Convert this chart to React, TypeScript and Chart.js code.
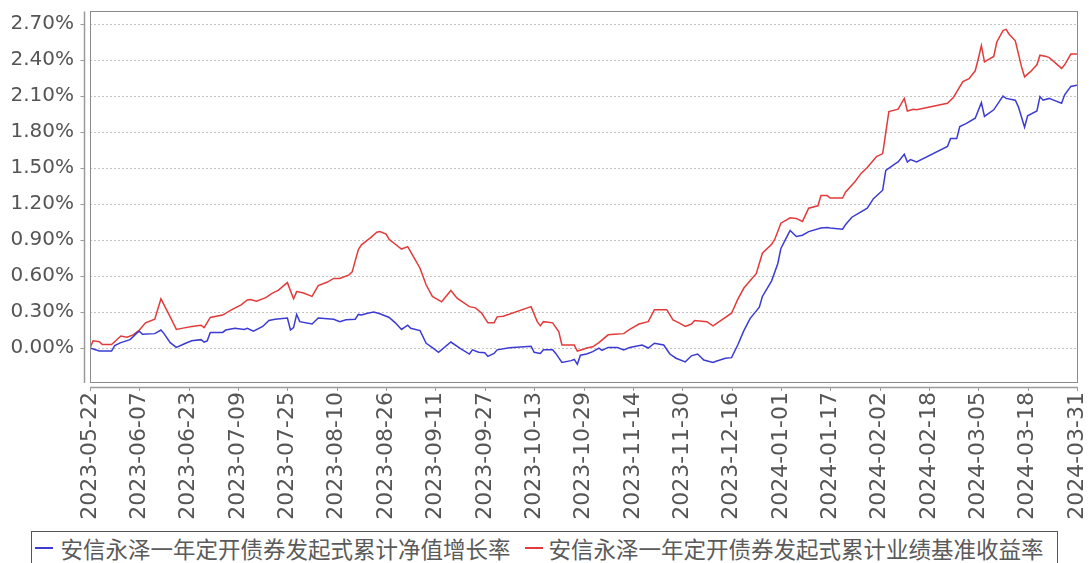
import React, { useEffect, useRef } from 'react';
import { Chart, registerables } from 'chart.js';

Chart.register(...registerables);

// x positions: evenly spaced axis units, 16 units between consecutive tick labels
const xTickLabels = [
  '2023-05-22', '2023-06-07', '2023-06-23', '2023-07-09', '2023-07-25', '2023-08-10',
  '2023-08-26', '2023-09-11', '2023-09-27', '2023-10-13', '2023-10-29', '2023-11-14',
  '2023-11-30', '2023-12-16', '2024-01-01', '2024-01-17', '2024-02-02', '2024-02-18',
  '2024-03-05', '2024-03-18', '2024-03-31',
];
const xTickStep = 16;
const yTickValues = [0, 0.3, 0.6, 0.9, 1.2, 1.5, 1.8, 2.1, 2.4, 2.7];
const yMin = -0.283;
const yMax = 2.8;

const seriesNames = [
  '安信永泽一年定开债券发起式累计净值增长率',
  '安信永泽一年定开债券发起式累计业绩基准收益率',
];

// Fund cumulative NAV growth (%)
const navX = [
  0, 3, 7, 8, 10, 13, 15, 16, 17, 21, 23, 24, 26, 28, 31, 33, 36, 37, 38, 39,
  43, 44, 47, 50, 51, 53, 56, 58, 60, 64, 65, 66, 67, 68, 72, 74, 79, 81, 83, 86,
  87, 88, 90, 92, 94, 97, 99, 101, 103, 104, 107, 109, 111, 113, 117, 120, 123, 124, 126, 128,
  129, 131, 132, 136, 143, 144, 146, 147, 150, 151, 153, 156, 157, 158, 159, 161, 163, 165, 166, 168,
  171, 173, 175, 177, 179, 181, 183, 186, 188, 190, 193, 195, 197, 199, 202, 203, 206, 208, 210, 212,
  214, 217, 218, 221, 223, 224, 226, 227, 229, 231, 233, 237, 239, 240, 244, 245, 247, 249, 252, 254,
  257, 258, 261, 262, 264, 265, 266, 268, 278, 279, 281, 282, 284, 287, 289, 290, 293, 296, 297, 300,
  301, 303, 304, 307, 308, 309, 311, 312, 315, 316, 318, 320,
];
const navValues = [
  0.0, -0.025, -0.025, 0.02, 0.045, 0.07, 0.12, 0.14, 0.115, 0.12, 0.15, 0.12, 0.045, 0.005, 0.04, 0.06, 0.07, 0.05, 0.06, 0.13,
  0.13, 0.15, 0.165, 0.155, 0.165, 0.14, 0.18, 0.23, 0.24, 0.25, 0.15, 0.17, 0.28, 0.22, 0.2, 0.25, 0.24, 0.22, 0.235, 0.24,
  0.28, 0.275, 0.29, 0.3, 0.285, 0.255, 0.21, 0.155, 0.19, 0.165, 0.145, 0.04, 0.003, -0.035, 0.05, -0.003, -0.05, -0.015, -0.035, -0.04,
  -0.07, -0.045, -0.015, 0.003, 0.015, -0.035, -0.045, -0.015, -0.015, -0.045, -0.12, -0.105, -0.095, -0.135, -0.06, -0.05, -0.03, 0.0, -0.02, 0.005,
  0.005, -0.015, 0.005, 0.015, 0.025, 0.0, 0.04, 0.025, -0.05, -0.085, -0.115, -0.065, -0.05, -0.1, -0.12, -0.11, -0.085, -0.08, 0.025, 0.145,
  0.245, 0.34, 0.43, 0.56, 0.705, 0.83, 0.93, 0.98, 0.93, 0.94, 0.97, 1.0, 1.005, 1.0, 0.99, 1.03, 1.09, 1.12, 1.165, 1.245,
  1.315, 1.48, 1.535, 1.55, 1.615, 1.55, 1.57, 1.55, 1.68, 1.745, 1.745, 1.845, 1.87, 1.915, 2.045, 1.93, 1.985, 2.1, 2.08, 2.065,
  2.01, 1.84, 1.935, 1.975, 2.095, 2.065, 2.08, 2.07, 2.04, 2.11, 2.18, 2.19,
];

// Benchmark cumulative return (%)
const benchX = [
  0, 1, 3, 4, 7, 10, 12, 14, 16, 18, 21, 23, 26, 28, 31, 33, 36, 37, 39, 43,
  46, 49, 51, 52, 54, 57, 59, 61, 64, 66, 67, 69, 72, 74, 77, 79, 81, 84, 85, 87,
  88, 91, 93, 94, 96, 97, 99, 101, 103, 105, 107, 109, 111, 114, 117, 119, 123, 125, 127, 129,
  131, 132, 134, 143, 145, 146, 147, 150, 152, 153, 157, 158, 160, 161, 163, 165, 168, 170, 173, 175,
  178, 181, 183, 187, 189, 191, 193, 195, 196, 200, 202, 204, 208, 210, 212, 214, 216, 218, 221, 222,
  224, 227, 229, 231, 233, 236, 237, 239, 240, 244, 245, 248, 250, 252, 254, 255, 257, 259, 262, 264,
  265, 267, 268, 278, 280, 281, 283, 285, 287, 288, 289, 290, 293, 294, 296, 297, 298, 300, 302, 303,
  305, 307, 308, 310, 311, 315, 316, 318, 320,
];
const benchValues = [
  0.0, 0.06, 0.053, 0.03, 0.03, 0.1, 0.09, 0.11, 0.15, 0.21, 0.24, 0.41, 0.26, 0.155, 0.17, 0.18, 0.19, 0.17, 0.255, 0.275,
  0.32, 0.36, 0.4, 0.405, 0.39, 0.42, 0.455, 0.48, 0.545, 0.41, 0.47, 0.46, 0.43, 0.52, 0.55, 0.58, 0.58, 0.61, 0.635, 0.82,
  0.86, 0.92, 0.965, 0.97, 0.95, 0.905, 0.865, 0.825, 0.845, 0.755, 0.665, 0.525, 0.43, 0.385, 0.48, 0.415, 0.345, 0.335, 0.29, 0.21,
  0.21, 0.26, 0.265, 0.345, 0.22, 0.185, 0.22, 0.21, 0.135, 0.025, 0.025, -0.025, -0.01, 0.0, 0.01, 0.045, 0.11, 0.115, 0.12, 0.155,
  0.2, 0.22, 0.32, 0.32, 0.235, 0.21, 0.18, 0.2, 0.23, 0.22, 0.185, 0.22, 0.29, 0.405, 0.5, 0.56, 0.62, 0.79, 0.865, 0.905,
  1.04, 1.085, 1.08, 1.055, 1.165, 1.185, 1.27, 1.27, 1.25, 1.25, 1.3, 1.385, 1.455, 1.505, 1.565, 1.595, 1.62, 1.97, 1.99, 2.08,
  1.975, 1.99, 1.985, 2.04, 2.09, 2.135, 2.22, 2.245, 2.31, 2.41, 2.52, 2.385, 2.43, 2.55, 2.645, 2.655, 2.615, 2.56, 2.345, 2.26,
  2.305, 2.36, 2.44, 2.43, 2.42, 2.33, 2.36, 2.45, 2.45,
];

const navColor = '#3b3bd3';
const benchColor = '#e23b3b';
const textColor = '#555555';

const zeroPadding = (scale: any) => {
  scale.paddingTop = 0;
  scale.paddingBottom = 0;
  scale.paddingLeft = 0;
  scale.paddingRight = 0;
};

const framePlugin = {
  id: 'frame',
  afterDatasetsDraw(chart: any) {
    const { ctx, chartArea: a, scales } = chart;
    ctx.save();
    // plot border
    ctx.strokeStyle = '#8a8a8a';
    ctx.lineWidth = 1;
    ctx.strokeRect(a.left + 0.5, a.top - 0.5, a.right - a.left, a.bottom - a.top + 1);
    // offset axes
    ctx.strokeStyle = '#9a9a9a';
    ctx.lineWidth = 1.5;
    ctx.beginPath();
    ctx.moveTo(a.left - 5.5, a.top - 0.5);
    ctx.lineTo(a.left - 5.5, a.bottom + 1);
    ctx.moveTo(a.left, a.bottom + 5.5);
    ctx.lineTo(a.right + 1, a.bottom + 5.5);
    ctx.stroke();
    ctx.lineWidth = 1;
    ctx.beginPath();
    for (const t of scales.x.ticks) {
      const px = Math.round(scales.x.getPixelForValue(t.value)) + 0.5;
      ctx.moveTo(px, a.bottom + 5.5);
      ctx.lineTo(px, a.bottom + 9);
    }
    for (const t of scales.y.ticks) {
      const py = Math.round(scales.y.getPixelForValue(t.value)) + 0.5;
      ctx.moveTo(a.left - 5.5, py);
      ctx.lineTo(a.left - 9.5, py);
    }
    ctx.stroke();
    ctx.restore();
  },
};

export default function App() {
  const ref = useRef<HTMLCanvasElement>(null);

  useEffect(() => {
    if (!ref.current) return;
    const chart = new Chart(ref.current, {
      type: 'line',
      data: {
        datasets: [
          {
            label: seriesNames[0],
            data: navX.map((x, i) => ({ x, y: navValues[i] })),
            borderColor: navColor,
            backgroundColor: navColor,
            borderWidth: 1.5,
            pointRadius: 0,
            tension: 0,
          },
          {
            label: seriesNames[1],
            data: benchX.map((x, i) => ({ x, y: benchValues[i] })),
            borderColor: benchColor,
            backgroundColor: benchColor,
            borderWidth: 1.5,
            pointRadius: 0,
            tension: 0,
          },
        ],
      },
      options: {
        responsive: false,
        animation: false,
        devicePixelRatio: 1,
        layout: { padding: { left: 0, right: 12, top: 12, bottom: 0 } },
        plugins: {
          legend: { display: false },
          tooltip: { enabled: false },
        },
        scales: {
          x: {
            type: 'linear',
            min: 0,
            max: (xTickLabels.length - 1) * xTickStep,
            afterBuildTicks: (scale: any) => {
              scale.ticks = xTickLabels.map((_, i) => ({ value: i * xTickStep }));
            },
            afterFit: (scale: any) => {
              scale.height = 148;
              zeroPadding(scale);
            },
            grid: { display: false, drawTicks: false },
            border: { display: false },
            ticks: {
              autoSkip: false,
              minRotation: 90,
              maxRotation: 90,
              padding: 10,
              color: textColor,
              font: { family: 'DejaVu Sans', size: 22 },
              callback: (value: any) => xTickLabels[Math.round(Number(value) / xTickStep)] ?? '',
            },
          },
          y: {
            type: 'linear',
            min: yMin,
            max: yMax,
            afterBuildTicks: (scale: any) => {
              scale.ticks = yTickValues.map((v) => ({ value: v }));
            },
            afterFit: (scale: any) => {
              scale.width = 90;
              zeroPadding(scale);
            },
            grid: { color: '#c4c4c4', lineWidth: 1, drawTicks: false },
            border: { display: false, dash: [2, 2] },
            ticks: {
              padding: 16,
              color: textColor,
              font: { family: 'DejaVu Sans', size: 20 },
              callback: (value: any) => `${Number(value).toFixed(2)}%`,
            },
          },
        },
      },
      plugins: [framePlugin],
    } as any);
    return () => chart.destroy();
  }, []);

  const legendText: React.CSSProperties = {
    fontFamily: '"Noto Sans CJK SC", sans-serif',
    fontSize: 22.5,
    lineHeight: '22px',
    color: '#5a5a5a',
    whiteSpace: 'nowrap',
  };

  return (
    <div
      style={{
        position: 'absolute',
        left: 0,
        top: 0,
        width: 1089,
        height: 563,
        overflow: 'hidden',
        background: '#ffffff',
      }}
    >
      <canvas ref={ref} width={1089} height={530} style={{ display: 'block', width: 1089, height: 530 }} />
      <div
        style={{
          position: 'absolute',
          left: 31,
          top: 531,
          width: 1027,
          height: 60,
          border: '1.5px solid #555',
          boxSizing: 'border-box',
        }}
      >
        <div style={{ display: 'flex', alignItems: 'center', height: 32 }}>
          <span style={{ display: 'inline-block', width: 18, height: 2, background: navColor, marginLeft: 2.5 }} />
          <span style={{ ...legendText, marginLeft: 8 }}>{seriesNames[0]}</span>
          <span style={{ display: 'inline-block', width: 18, height: 2, background: benchColor, marginLeft: 14 }} />
          <span style={{ ...legendText, marginLeft: 6 }}>{seriesNames[1]}</span>
        </div>
      </div>
    </div>
  );
}
